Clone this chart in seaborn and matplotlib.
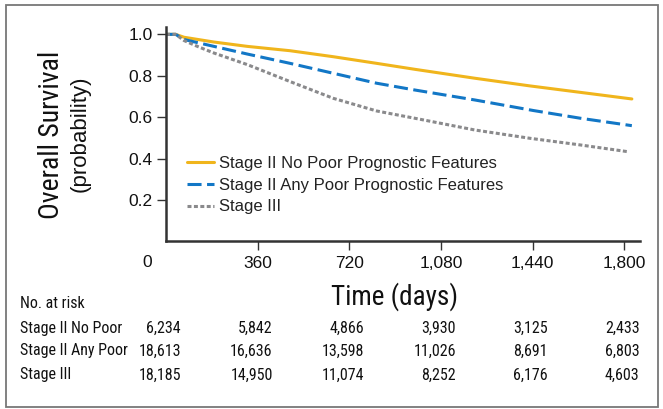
import matplotlib
matplotlib.use("Agg")
import matplotlib.pyplot as plt
import matplotlib.transforms as mtransforms
from matplotlib.patches import Rectangle
import pandas as pd
import seaborn as sns

# survival curves (days, probability)
no_poor_days = [0, 38, 71, 188, 319, 487, 657, 827, 978, 1213, 1429, 1626, 1829]
no_poor_surv = [1.0, 1.0, 0.986, 0.963, 0.942, 0.921, 0.892, 0.860, 0.831, 0.788, 0.751, 0.720, 0.688]

any_poor_days = [0, 38, 71, 188, 319, 487, 657, 827, 978, 1213, 1443, 1626, 1829]
any_poor_surv = [1.0, 1.0, 0.975, 0.942, 0.905, 0.860, 0.812, 0.764, 0.731, 0.683, 0.632, 0.595, 0.559]

stage3_days = [0, 38, 71, 123, 188, 319, 487, 657, 827, 997, 1213, 1429, 1626, 1815]
stage3_surv = [1.0, 1.0, 0.970, 0.942, 0.910, 0.854, 0.772, 0.691, 0.630, 0.590, 0.538, 0.498, 0.466, 0.433]

groups = ["Stage II No Poor Prognostic Features",
          "Stage II Any Poor Prognostic Features",
          "Stage III"]
risk_labels = ["Stage II No Poor", "Stage II Any Poor", "Stage III"]
risk_times = [0, 360, 720, 1080, 1440, 1800]
risk_no_poor = ["6,234", "5,842", "4,866", "3,930", "3,125", "2,433"]
risk_any_poor = ["18,613", "16,636", "13,598", "11,026", "8,691", "6,803"]
risk_stage3 = ["18,185", "14,950", "11,074", "8,252", "6,176", "4,603"]
x_ticks = [360, 720, 1080, 1440, 1800]
x_ticklabels = ["360", "720", "1,080", "1,440", "1,800"]
y_ticks = [0.2, 0.4, 0.6, 0.8, 1.0]

df = pd.concat([
    pd.DataFrame({"days": no_poor_days, "surv": no_poor_surv, "group": groups[0]}),
    pd.DataFrame({"days": any_poor_days, "surv": any_poor_surv, "group": groups[1]}),
    pd.DataFrame({"days": stage3_days, "surv": stage3_surv, "group": groups[2]}),
])

sns.set_style("white")
plt.rcParams["font.family"] = ["Liberation Sans", "DejaVu Sans"]
NARROW = ["Roboto Condensed", "Archivo Narrow", "Liberation Sans", "DejaVu Sans"]
AX_COL = "#333333"
TXT_COL = "#111111"

palette = {groups[0]: "#F0B51C", groups[1]: "#1277C6", groups[2]: "#8A8A8C"}
dashes = {groups[0]: "", groups[1]: (4.6, 1.8), groups[2]: (1.3, 0.8)}

fig = plt.figure(figsize=(6.63, 4.09), dpi=100)
ax = fig.add_axes([166 / 663, 1 - 241.4 / 409, (640 - 166) / 663, (241.4 - 26.7) / 409])

sns.lineplot(data=df, x="days", y="surv", hue="group", style="group",
             palette=palette, dashes=dashes, linewidth=2.2, ax=ax,
             estimator=None, sort=False)

ax.set_xlim(0, 1861)
ax.set_ylim(0, 1.037)
ax.set_xticks(x_ticks)
ax.set_xticklabels(x_ticklabels)
ax.set_yticks(y_ticks)
ax.set_yticklabels([f"{v:.1f}" for v in y_ticks])
ax.set_xlabel("")
ax.set_ylabel("")
sns.despine(ax=ax)
for side in ["left", "bottom"]:
    ax.spines[side].set_color(AX_COL)
    ax.spines[side].set_linewidth(1.8)
ax.tick_params(axis="both", direction="out", length=6.5, width=1.0, color=AX_COL,
               labelsize=12.5, labelcolor=TXT_COL, bottom=True, left=True)
ax.tick_params(axis="x", pad=4)
ax.tick_params(axis="y", pad=3)

# the "0" label sits left of the corner in the reference
ax.annotate("0", xy=(0, 0), xycoords=("data", "axes fraction"), xytext=(-13.7, -15.5),
            textcoords="offset points", ha="center", va="center", fontsize=12.5, color=TXT_COL)

leg = ax.legend(loc="upper left", bbox_to_anchor=(187 / 663, 1 - 156 / 409),
                bbox_transform=fig.transFigure, frameon=False, fontsize=12,
                handlelength=1.6, handletextpad=0.3, labelspacing=0.4,
                borderpad=0, borderaxespad=0)
for t in leg.get_texts():
    t.set_color("#222222")

# axis titles
fig.text(52 / 663, 1 - 134.5 / 409, "Overall Survival", rotation=90, ha="center", va="center",
         fontsize=20, family=NARROW, color=TXT_COL)
fig.text(80 / 663, 1 - 133.5 / 409, "(probability)", rotation=90, ha="center", va="center",
         fontsize=16, color=TXT_COL)
fig.text(394.5 / 663, 1 - 297 / 409, "Time (days)", ha="center", va="center",
         fontsize=19.5, family=NARROW, color=TXT_COL)

# number at risk table
fig.text(20 / 663, 1 - 304 / 409, "No. at risk", ha="left", va="center",
         fontsize=11.5, family=NARROW, color=TXT_COL)
row_y = [328, 351, 375]
trans = mtransforms.blended_transform_factory(ax.transData, fig.transFigure)
trans = trans + mtransforms.ScaledTranslation(15 / 100, 0, fig.dpi_scale_trans)
for label, counts, y in zip(risk_labels, [risk_no_poor, risk_any_poor, risk_stage3], row_y):
    fig.text(20 / 663, 1 - y / 409, label, ha="left", va="center",
             fontsize=11.5, family=NARROW, color=TXT_COL)
    for t, c in zip(risk_times, counts):
        ax.text(t, 1 - y / 409, c, transform=trans, ha="right", va="center",
                fontsize=11.5, family=NARROW, color=TXT_COL, clip_on=False)

fig.add_artist(Rectangle((6 / 663, 2 / 409), 652 / 663, 402 / 409, transform=fig.transFigure,
                         fill=False, edgecolor="#777777", linewidth=1.3))

fig.savefig("out.png", dpi=100)
